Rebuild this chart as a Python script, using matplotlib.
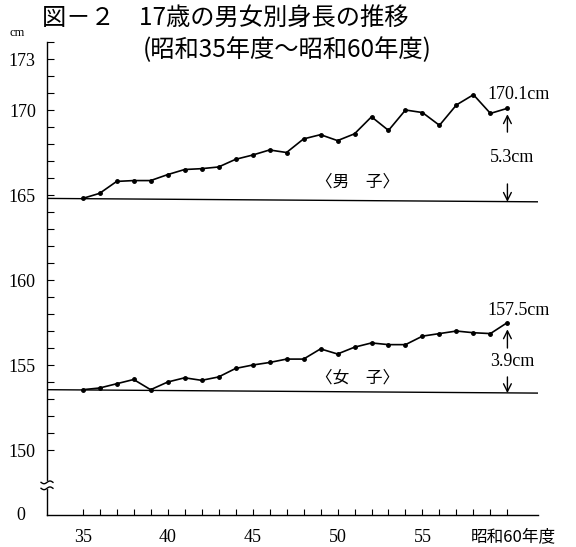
import matplotlib
matplotlib.use("Agg")
import matplotlib.pyplot as plt
import numpy as np

# 昭和35年度〜60年度, 17歳の平均身長 (cm)
years = list(range(35, 61))
male = [164.8, 165.1, 165.8, 165.85, 165.85, 166.2, 166.5, 166.55, 166.65, 167.1,
        167.35, 167.65, 167.5, 168.3, 168.55, 168.2, 168.6, 169.6, 168.8, 170.0,
        169.85, 169.1, 170.3, 170.9, 169.8, 170.1]
female = [153.55, 153.65, 153.9, 154.15, 153.55, 154.0, 154.25, 154.1, 154.3, 154.8,
          155.0, 155.15, 155.35, 155.35, 155.95, 155.65, 156.05, 156.3, 156.2, 156.2,
          156.7, 156.85, 157.0, 156.9, 156.85, 157.5]
male_base = 164.8
female_base = 153.6
male_diff = "5.3cm"
female_diff = "3.9cm"
ytick_vals = [150, 155, 160, 165, 170, 173]
xtick_vals = [35, 40, 45, 50, 55]

jp = ["Noto Sans CJK JP", "DejaVu Sans"]
serif = "Liberation Serif"

fig = plt.figure(figsize=(5.76, 5.47), dpi=100)
ax = fig.add_axes([47 / 576, 32 / 547, (538 - 47) / 576, (515 - 42) / 547])

y0 = 146.18  # position of "0" on the broken axis
ax.set_xlim(32.9, 61.8)
ax.set_ylim(y0, 174)

for s in ["top", "right"]:
    ax.spines[s].set_visible(False)
for s in ["left", "bottom"]:
    ax.spines[s].set_linewidth(1.0)

# y ticks every 1 cm, inward
ax.set_yticks(list(range(150, 175)))
ax.set_yticklabels([str(v) if v in ytick_vals else "" for v in range(150, 175)],
                   fontfamily=serif, fontsize=13)
ax.tick_params(axis="y", direction="in", length=5, width=0.8, pad=8)
ax.text(-0.045, y0, "0", transform=ax.get_yaxis_transform(), ha="right",
        va="center", fontfamily=serif, fontsize=13)
ax.text(-0.06, 174.2, "cm", transform=ax.get_yaxis_transform(), ha="center",
        va="bottom", fontfamily=serif, fontsize=9)

# x ticks every year, inward
ax.set_xticks(years)
ax.set_xticklabels([str(v) if v in xtick_vals else "" for v in years],
                   fontfamily=serif, fontsize=13)
ax.tick_params(axis="x", direction="in", length=4, width=0.8, pad=10)
ax.text(60.37, -0.046, "昭和60年度", transform=ax.get_xaxis_transform(),
        ha="center", va="center", family=jp, fontsize=12)

# axis break marks
t = np.linspace(-1, 1, 40)
for yb in [148.1, 147.75]:
    ax.plot(32.9 + t * 0.35, yb + 0.08 * np.sin(t * np.pi), color="black",
            lw=1.0, clip_on=False, zorder=5)
ax.plot([32.9, 32.9], [147.8, 148.05], color="white", lw=3, clip_on=False, zorder=4)

# data lines
ax.plot(years, male, color="black", lw=1.2, marker="o", ms=2.5)
ax.plot(years, female, color="black", lw=1.2, marker="o", ms=2.5)

# reference lines (昭和35年度の値)
ax.plot([32.9, 61.8], [male_base, male_base - 0.2], color="black", lw=1.0)
ax.plot([32.9, 61.8], [female_base - 0.05, female_base - 0.25], color="black", lw=1.0)

# arrows and labels
arr = dict(arrowstyle="->", color="black", lw=1.0, mutation_scale=14,
           shrinkA=0, shrinkB=0)
ax.annotate("", xy=(60, 169.75), xytext=(60, 168.7), arrowprops=arr)
ax.annotate("", xy=(60, 164.6), xytext=(60, 165.65), arrowprops=arr)
ax.annotate("", xy=(60, 157.1), xytext=(60, 156.0), arrowprops=arr)
ax.annotate("", xy=(60, 153.35), xytext=(60, 154.3), arrowprops=arr)

num_font = dict(fontfamily=serif, fontsize=13)
ax.text(58.85, 170.94, "170.1cm", ha="left", va="center", **num_font)
ax.text(58.85, 158.18, "157.5cm", ha="left", va="center", **num_font)
ax.text(60.3, 167.18, male_diff, ha="center", va="center", **num_font)
ax.text(60.3, 155.18, female_diff, ha="center", va="center", **num_font)
ax.text(51.16, 165.76, "〈男　子〉", ha="center", va="center", family=jp, fontsize=12)
ax.text(51.16, 154.24, "〈女　子〉", ha="center", va="center", family=jp, fontsize=12)

# title
fig.text(42 / 576, 1 - 18 / 547, "図－２　17歳の男女別身長の推移", ha="left",
         va="center", family=jp, fontsize=17.5)
fig.text(143 / 576, 1 - 50 / 547, "(昭和35年度～昭和60年度)", ha="left",
         va="center", family=jp, fontsize=17.5)

fig.savefig("out.png", dpi=100)
